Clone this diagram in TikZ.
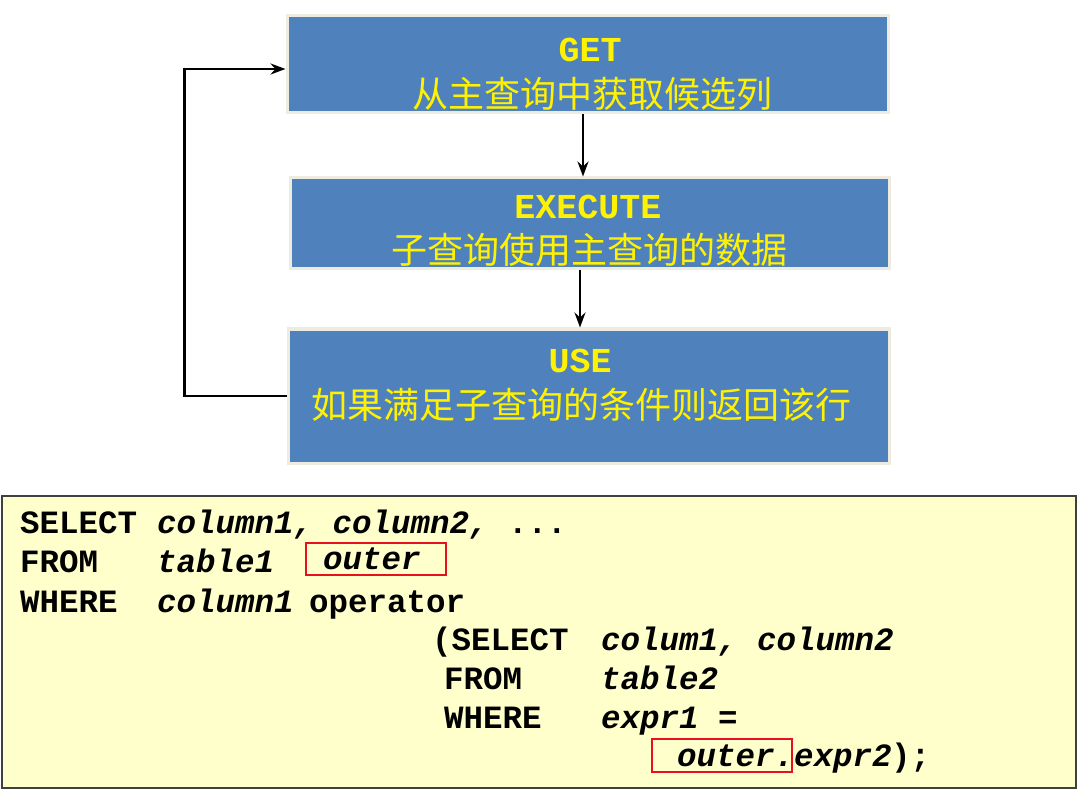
\documentclass[tikz,border=0pt]{standalone}
\usepackage{fontspec}
\setmonofont{Liberation Mono}
\newfontfamily\cjk{Noto Sans CJK SC}
\usetikzlibrary{arrows.meta}
\definecolor{boxblue}{HTML}{4F81BD}
\definecolor{boxedge}{HTML}{EEECE1}
\definecolor{codebg}{HTML}{FFFFCC}
\definecolor{codeedge}{HTML}{404040}
\definecolor{hlred}{HTML}{E8101E}
\tikzset{
  flowbox/.style={draw=boxedge, line width=3pt, fill=boxblue, inner sep=0pt},
  ttl/.style={text=yellow, font=\fontsize{35}{40}\selectfont\ttfamily\bfseries, inner sep=0pt, anchor=base},
  cn/.style={text=yellow, font=\fontsize{36}{40}\selectfont\cjk, inner sep=0pt, anchor=base},
  arr/.style={draw=black, line width=2.8pt, -{Stealth[length=15pt,width=11pt,inset=5pt]}},
  kw/.style={font=\fontsize{32.5}{36}\selectfont\ttfamily\bfseries, inner sep=0pt, anchor=base west},
  idf/.style={font=\fontsize{32.5}{36}\selectfont\ttfamily\bfseries\itshape, inner sep=0pt, anchor=base west},
  hl/.style={draw=hlred, line width=2pt},
}
\begin{document}
\begin{tikzpicture}[x=1pt,y=-1pt]
\useasboundingbox (0,0) rectangle (1078,791);
% flow boxes
\node[flowbox, minimum width=601pt, minimum height=97pt] (b1) at (587.5,64.5) {};
\node[flowbox, minimum width=599pt, minimum height=91pt] (b2) at (589.5,223.5) {};
\node[flowbox, minimum width=601pt, minimum height=134pt] (b3) at (588.5,396) {};
% texts
\node[ttl] (t1) at (590,62) {GET};
\node[cn] (c1) at (592,108) {从主查询中获取候选列};
\node[ttl] (t2) at (588,219) {EXECUTE};
\node[cn] (c2) at (589,264) {子查询使用主查询的数据};
\node[ttl] (t3) at (580,372) {USE};
\node[cn] (c3) at (581,418) {如果满足子查询的条件则返回该行};
% connectors
\coordinate (ax1) at (583,0);
\coordinate (ax2) at (580,0);
\coordinate (loopy) at (0,69);
\draw[arr] (b1.south -| ax1) -- (b2.north -| ax1);
\draw[arr] (b2.south -| ax2) -- (b3.north -| ax2);
\draw[arr] (b3.west) -- ++(-102,0) |- (b1.west |- loopy);
% code box
\node[draw=codeedge, line width=1.5pt, fill=codebg, minimum width=1074pt, minimum height=292pt, inner sep=0pt] (code) at (539,642) {};
% red highlights
\node[hl, minimum width=140pt, minimum height=32pt, inner sep=0pt] (r1) at (376,559) {};
\node[hl, minimum width=140pt, minimum height=33pt, inner sep=0pt] (r2) at (722,755.5) {};
% code lines
\node[kw] (l1a) at (20,533) {SELECT};
\node[idf] (l1b) at (157,533) {column1, column2,};
\node[kw] (l1c) at (508,533) {...};
\node[kw] (l2a) at (20,572) {FROM};
\node[idf] (l2b) at (157,572) {table1};
\node[idf] (l2c) at (323,569) {outer};
\node[kw] (l3a) at (20,612) {WHERE};
\node[idf] (l3b) at (157,612) {column1};
\node[kw] (l3c) at (309,612) {operator};
\node[kw] (l4a) at (432,650) {(SELECT};
\node[idf] (l4b) at (601,650) {colum1, column2};
\node[kw] (l5a) at (444,689) {FROM};
\node[idf] (l5b) at (601,689) {table2};
\node[kw] (l6a) at (444,728) {WHERE};
\node[idf] (l6b) at (601,728) {expr1};
\node[kw] (l6c) at (718,728) {=};
\node[idf] (l7a) at (677,766) {outer.};
\node[idf] (l7b) at (794,766) {expr2};
\node[kw] (l7c) at (891,766) {);};
\end{tikzpicture}
\end{document}
